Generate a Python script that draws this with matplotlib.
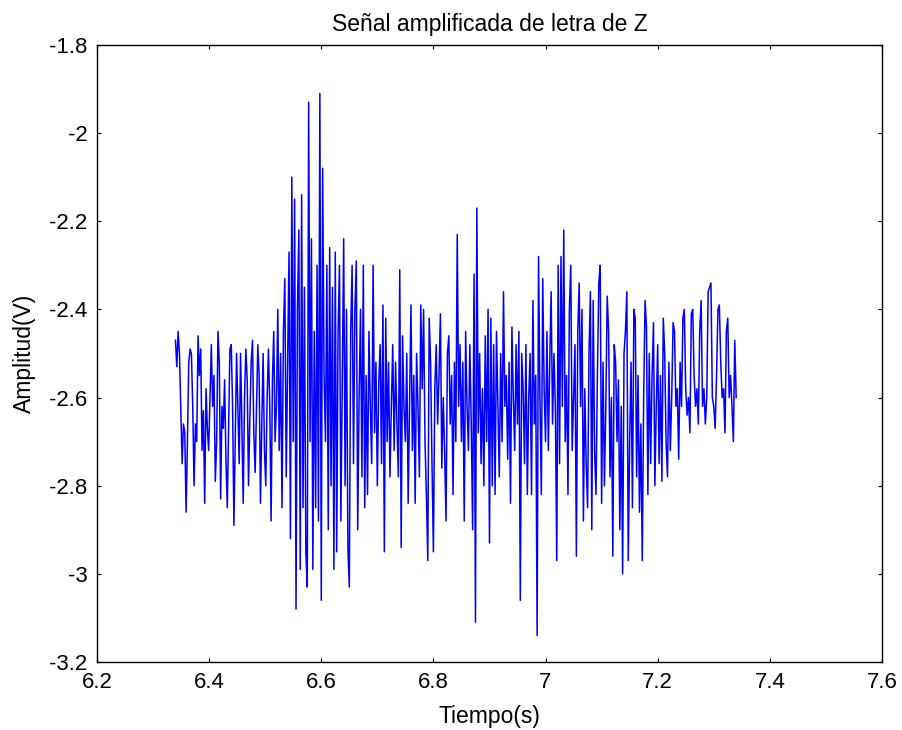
import numpy as np
import matplotlib
matplotlib.use("Agg")
import matplotlib.pyplot as plt
from matplotlib.ticker import FormatStrFormatter

plt.rcParams['font.family'] = ['Liberation Sans', 'DejaVu Sans']
plt.rcParams['axes.unicode_minus'] = False

# signal, split in time windows
t_edges = [6.34, 6.52, 6.68, 6.85, 7.02, 7.19, 7.34]

seg1 = [-2.47, -2.53, -2.45, -2.50, -2.62, -2.75, -2.66, -2.68, -2.86, -2.70,
        -2.52, -2.49, -2.50, -2.62, -2.80, -2.66, -2.70, -2.46, -2.55, -2.49,
        -2.72, -2.63, -2.84, -2.58, -2.67, -2.72, -2.60, -2.48, -2.62, -2.55,
        -2.79, -2.70, -2.45, -2.52, -2.83, -2.62, -2.67, -2.56, -2.74, -2.85,
        -2.67, -2.49, -2.48, -2.62, -2.89, -2.70, -2.50, -2.62, -2.75, -2.50,
        -2.66, -2.84, -2.60, -2.49, -2.56, -2.80, -2.65, -2.52, -2.47, -2.68,
        -2.77, -2.62, -2.48, -2.55, -2.84, -2.66, -2.50, -2.72, -2.80, -2.60,
        -2.49, -2.62, -2.88, -2.56, -2.45, -2.70]
seg2 = [-2.62, -2.40, -2.72, -2.50, -2.85, -2.45, -2.33, -2.78, -2.52, -2.27,
        -2.92, -2.10, -2.70, -2.15, -3.08, -2.40, -2.22, -2.99, -2.14, -2.85,
        -2.35, -2.95, -3.03, -1.93, -2.70, -2.24, -2.99, -2.45, -2.85, -2.30,
        -2.88, -1.91, -3.06, -2.08, -2.55, -2.70, -2.30, -2.90, -2.26, -2.80,
        -2.35, -2.99, -2.27, -2.95, -2.45, -2.30, -2.88, -2.55, -2.24, -2.80,
        -2.40, -2.94, -3.03, -2.45, -2.30, -2.75, -2.40, -2.29, -2.90, -2.60,
        -2.40, -2.78, -2.30, -2.85]
seg3 = [-2.55, -2.82, -2.45, -2.62, -2.75, -2.30, -2.68, -2.52, -2.80, -2.57,
        -2.48, -2.75, -2.39, -2.95, -2.42, -2.70, -2.52, -2.78, -2.62, -2.48,
        -2.72, -2.52, -2.66, -2.78, -2.31, -2.94, -2.46, -2.62, -2.70, -2.50,
        -2.84, -2.62, -2.39, -2.72, -2.55, -2.84, -2.50, -2.62, -2.78, -2.39,
        -2.58, -2.40, -2.70, -2.82, -2.97, -2.42, -2.52, -2.75, -2.95, -2.58,
        -2.48, -2.66, -2.55, -2.41, -2.76, -2.60, -2.72, -2.88, -2.50, -2.46,
        -2.66, -2.55, -2.82, -2.52, -2.70, -2.23, -2.62, -2.48]
seg4 = [-2.70, -2.52, -2.88, -2.45, -2.62, -2.72, -2.48, -2.66, -2.90, -2.32,
        -3.11, -2.17, -2.68, -2.50, -2.75, -2.58, -2.80, -2.46, -2.70, -2.40,
        -2.93, -2.42, -2.80, -2.48, -2.82, -2.45, -2.62, -2.78, -2.50, -2.70,
        -2.36, -2.62, -2.55, -2.74, -2.52, -2.84, -2.44, -2.60, -2.72, -2.48,
        -2.66, -2.45, -3.06, -2.50, -2.58, -2.75, -2.48, -2.82, -2.60, -2.50,
        -2.82, -2.38, -2.66, -2.55, -3.14, -2.28, -2.60, -2.82, -2.33, -2.58,
        -2.70, -2.45, -2.72, -2.52, -2.36, -2.66, -2.50, -2.62]
seg5 = [-2.97, -2.30, -2.75, -2.28, -2.62, -2.22, -2.70, -2.55, -2.82, -2.40,
        -2.30, -2.72, -2.60, -2.48, -2.96, -2.45, -2.34, -2.62, -2.40, -2.88,
        -2.58, -2.75, -2.85, -2.50, -2.36, -2.90, -2.38, -2.72, -2.82, -2.55,
        -2.34, -2.30, -2.84, -2.52, -2.80, -2.62, -2.37, -2.45, -2.78, -2.60,
        -2.96, -2.48, -2.52, -2.70, -2.56, -2.90, -2.62, -3.00, -2.50, -2.45,
        -2.36, -2.97, -2.70, -2.52, -2.85, -2.40, -2.42, -2.78, -2.55, -2.86,
        -2.66, -2.97, -2.60, -2.38, -2.44, -2.82, -2.50, -2.75]
seg6 = [-2.55, -2.43, -2.80, -2.62, -2.48, -2.75, -2.55, -2.79, -2.42, -2.50,
        -2.70, -2.78, -2.52, -2.72, -2.60, -2.43, -2.45, -2.62, -2.58, -2.74,
        -2.52, -2.62, -2.42, -2.40, -2.58, -2.64, -2.60, -2.68, -2.41, -2.40,
        -2.55, -2.62, -2.58, -2.66, -2.45, -2.38, -2.62, -2.58, -2.66, -2.60,
        -2.36, -2.35, -2.34, -2.60, -2.62, -2.67, -2.55, -2.40, -2.39, -2.52,
        -2.60, -2.58, -2.68, -2.45, -2.42, -2.60, -2.55, -2.62, -2.70, -2.47,
        -2.60]

segments = [seg1, seg2, seg3, seg4, seg5, seg6]
t_parts = []
for i, seg in enumerate(segments):
    last = i == len(segments) - 1
    t_parts.append(np.linspace(t_edges[i], t_edges[i + 1], len(seg), endpoint=last))
t = np.concatenate(t_parts)
v = np.concatenate([np.array(s) for s in segments])

fig = plt.figure(figsize=(9.03, 7.30), dpi=100)
ax = fig.add_axes([0.1074, 0.0932, 0.8693, 0.8452])
ax.plot(t, v, color='#0000ff', linewidth=1.1)

ax.set_xlim(6.2, 7.6)
ax.set_ylim(-3.2, -1.8)
ax.set_xticks(np.arange(6.2, 7.61, 0.2))
ax.set_yticks(np.arange(-3.2, -1.79, 0.2))
ax.xaxis.set_major_formatter(FormatStrFormatter('%g'))
ax.yaxis.set_major_formatter(FormatStrFormatter('%g'))
ax.tick_params(direction='in', top=True, right=True, length=3, width=0.8,
               labelsize=16, pad=7)
for s in ax.spines.values():
    s.set_linewidth(1.0)

ax.set_title('Señal amplificada de letra de Z', fontsize=16.5, pad=10)
ax.set_xlabel('Tiempo(s)', fontsize=16.5, labelpad=9)
ax.set_ylabel('Amplitud(V)', fontsize=16.5, labelpad=9)

fig.savefig('out.png', dpi=100)
